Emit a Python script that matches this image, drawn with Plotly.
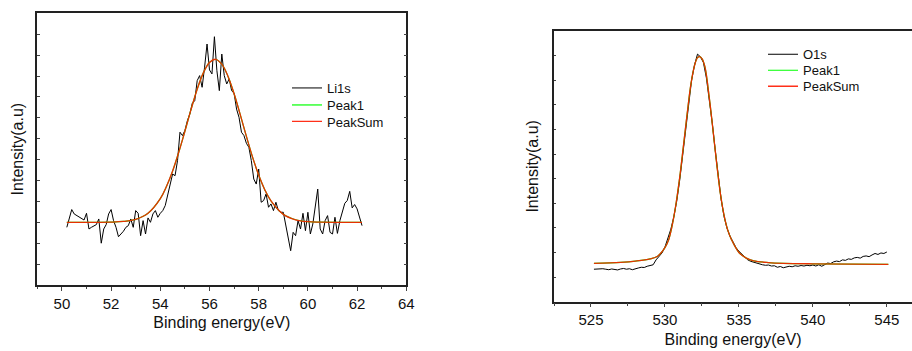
import numpy as np
import plotly.graph_objects as go

# ---------------- data: Li 1s ----------------
li_start, li_step = 50.2, 0.1
li1s = [2.76, 3.24, 3.61, 3.40, 3.32, 3.27, 3.16, 3.11, 3.43, 2.68,
        2.76, 2.84, 2.89, 3.16, 2.00, 2.68, 2.89, 3.40, 3.61, 3.08,
        2.76, 2.31, 2.44, 2.57, 2.76, 2.84, 3.16, 2.76, 3.56, 3.43,
        2.36, 3.08, 2.44, 3.21, 3.00, 3.40, 3.56, 3.24, 3.43, 3.56,
        3.80, 4.28, 4.83, 5.31, 5.23, 5.95, 7.31, 7.15, 7.39, 7.86,
        8.18, 8.69, 8.82, 9.78, 10.02, 9.46, 10.42, 11.53, 10.29, 10.10,
        11.88, 10.26, 9.30, 11.05, 10.02, 9.62, 9.86, 9.30, 9.17, 8.42,
        8.02, 7.31, 7.15, 6.78, 6.59, 5.95, 5.07, 4.83, 5.55, 3.96,
        4.04, 4.36, 3.72, 3.88, 3.56, 3.96, 3.56, 3.48, 3.48, 2.92,
        2.31, 1.64, 2.52, 2.36, 3.08, 2.68, 3.43, 2.60, 3.48, 2.44,
        2.92, 3.72, 4.59, 2.68, 2.44, 3.08, 3.32, 2.52, 2.44, 3.24,
        2.47, 3.08, 3.53, 3.91, 4.04, 4.48, 3.69, 3.85, 3.64, 3.24,
        2.84]
li_fit_x = [50.2, 52.0, 52.5, 53.0, 53.5, 54.0, 54.25, 54.5, 54.75, 55.0,
            55.25, 55.5, 55.75, 56.0, 56.25, 56.5, 56.75, 57.0, 57.25, 57.5,
            57.75, 58.0, 58.25, 58.5, 59.0, 59.5, 60.0, 60.5, 62.2]
li_fit = [3.00, 3.01, 3.04, 3.14, 3.43, 4.13, 4.71, 5.45, 6.35, 7.35,
          8.40, 9.37, 10.15, 10.65, 10.80, 10.57, 9.99, 9.15, 8.15, 7.11,
          6.12, 5.26, 4.55, 4.02, 3.38, 3.12, 3.03, 3.01, 3.00]

# ---------------- data: O 1s ----------------
o_start, o_step = 525.2, 0.2
o1s = [1.32, 1.33, 1.31, 1.34, 1.32, 1.30, 1.33, 1.31, 1.29, 1.33,
       1.35, 1.32, 1.34, 1.30, 1.35, 1.37, 1.40, 1.39, 1.44, 1.47,
       1.50, 1.70, 1.82, 1.98, 2.22, 2.55, 2.95, 3.45, 4.10, 4.95,
       6.00, 7.10, 8.10, 9.00, 9.62, 10.06, 9.95, 9.72, 9.10, 8.25,
       7.25, 6.15, 5.05, 4.15, 3.45, 2.98, 2.66, 2.40, 2.20, 2.05,
       1.92, 1.80, 1.70, 1.64, 1.60, 1.56, 1.55, 1.50, 1.48, 1.49,
       1.45, 1.46, 1.40, 1.43, 1.38, 1.41, 1.44, 1.42, 1.46, 1.44,
       1.47, 1.45, 1.48, 1.46, 1.49, 1.45, 1.50, 1.44, 1.52, 1.57,
       1.55, 1.62, 1.65, 1.63, 1.70, 1.68, 1.74, 1.72, 1.78, 1.80,
       1.77, 1.84, 1.86, 1.83, 1.90, 1.96, 1.92, 1.98, 1.96, 2.02]
o_fit_x = [525.2, 527.0, 528.0, 529.0, 529.5, 530.0, 530.25, 530.5, 530.75, 531.0,
           531.25, 531.5, 531.75, 532.0, 532.2, 532.35, 532.5, 532.7, 533.0, 533.25,
           533.5, 533.75, 534.0, 534.25, 534.5, 535.0, 535.5, 536.0, 537.0, 538.0,
           540.0, 545.1]
o_fit = [1.56, 1.60, 1.65, 1.74, 1.85, 2.20, 2.52, 3.13, 3.99, 5.06,
         6.33, 7.63, 8.82, 9.60, 9.92, 9.96, 9.88, 9.55, 8.27, 6.96,
         5.60, 4.38, 3.50, 2.90, 2.52, 2.00, 1.77, 1.66, 1.59, 1.56,
         1.54, 1.52]

li_x = np.round(li_start + li_step * np.arange(len(li1s)), 2)
o_x = np.round(o_start + o_step * np.arange(len(o1s)), 2)

W, H = 912, 351
FONT = "Arial, Liberation Sans, sans-serif"
GREEN = "#00ff00"
RED = "#ff1a00"

fig = go.Figure()

# left panel
fig.add_trace(go.Scatter(x=li_x, y=li1s, mode="lines", name="Li1s",
                         line=dict(color="black", width=1), xaxis="x", yaxis="y", legend="legend"))
fig.add_trace(go.Scatter(x=li_fit_x, y=li_fit, mode="lines", name="Peak1",
                         line=dict(color=GREEN, width=1.2, shape="spline"), xaxis="x", yaxis="y", legend="legend3"))
fig.add_trace(go.Scatter(x=li_fit_x, y=li_fit, mode="lines", name="PeakSum",
                         line=dict(color=RED, width=1.3, shape="spline"), opacity=0.9,
                         xaxis="x", yaxis="y", legend="legend4"))
# right panel
fig.add_trace(go.Scatter(x=o_x, y=o1s, mode="lines", name="O1s",
                         line=dict(color="black", width=1), xaxis="x2", yaxis="y2", legend="legend2"))
fig.add_trace(go.Scatter(x=o_fit_x, y=o_fit, mode="lines", name="Peak1",
                         line=dict(color=GREEN, width=1.2, shape="spline"), xaxis="x2", yaxis="y2", legend="legend5"))
fig.add_trace(go.Scatter(x=o_fit_x, y=o_fit, mode="lines", name="PeakSum",
                         line=dict(color=RED, width=1.3, shape="spline"), opacity=0.9,
                         xaxis="x2", yaxis="y2", legend="legend6"))

axis_common = dict(showgrid=False, zeroline=False, linecolor="#222", linewidth=1.5,
                   tickcolor="#444", automargin=False,
                   tickfont=dict(family=FONT, size=15, color="#111"))

xd1 = [37.3 / W, 406.3 / W]
yd1 = [(H - 285) / H, (H - 13.3) / H]
xd2 = [554 / W, 1.0]
yd2 = [(H - 301.7) / H, (H - 31) / H]


def leg(xpx, ypx):
    return dict(x=xpx / W, y=1 - ypx / H, xanchor="left", yanchor="middle",
                bgcolor="rgba(0,0,0,0)", borderwidth=0, visible=True,
                font=dict(family=FONT, size=13, color="#111"), itemwidth=30)


fig.update_layout(
    width=W, height=H, margin=dict(l=0, r=0, t=0, b=0, pad=0),
    paper_bgcolor="white", plot_bgcolor="white", showlegend=True,
    font=dict(family=FONT, color="#111"),
    xaxis=dict(axis_common, domain=xd1, range=[49, 64], dtick=2, tick0=50,
               ticks="outside", ticklen=4, mirror=True, showline=True,
               minor=dict(dtick=1, tick0=49, ticks="outside", ticklen=2.5, tickcolor="#444"),
               title=dict(text="Binding energy(eV)", font=dict(family=FONT, size=16), standoff=6),
               anchor="y"),
    yaxis=dict(axis_common, domain=yd1, range=[0, 13], dtick=1, showticklabels=False,
               ticks="inside", ticklen=2.5, mirror="ticks", showline=True,
               title=dict(text="Intensity(a.u)", font=dict(family=FONT, size=16), standoff=8),
               anchor="x"),
    xaxis3=dict(axis_common, domain=xd1, range=[49, 64], dtick=1, tick0=49, overlaying="x",
                side="top", ticks="inside", ticklen=2.5, showticklabels=False, showline=False,
                anchor="y"),
    xaxis2=dict(axis_common, domain=xd2, range=[522.5, 546.7], dtick=5, tick0=525,
                ticks="outside", ticklen=4, mirror=True, showline=True,
                minor=dict(dtick=2.5, tick0=522.5, ticks="outside", ticklen=2.5, tickcolor="#444"),
                title=dict(text="Binding energy(eV)", font=dict(family=FONT, size=16), standoff=6),
                anchor="y2"),
    yaxis2=dict(axis_common, domain=yd2, range=[0, 11], dtick=1, showticklabels=False,
                ticks="inside", ticklen=2.5, mirror=False, showline=True,
                title=dict(text="Intensity(a.u)", font=dict(family=FONT, size=16), standoff=10),
                anchor="x2"),
    xaxis4=dict(axis_common, domain=xd2, range=[522.5, 546.7], dtick=2.5, tick0=522.5,
                overlaying="x2", side="top", ticks="inside", ticklen=2.5,
                showticklabels=False, showline=False, anchor="y2"),
    legend=leg(287, 88),
    legend3=leg(287, 105),
    legend4=leg(287, 121.5),
    legend2=leg(763, 54.3),
    legend5=leg(763, 70.3),
    legend6=leg(763, 86.3),
)

fig.write_html("out.html", config={"displayModeBar": False},
               post_script="document.body.style.margin='0px';")
